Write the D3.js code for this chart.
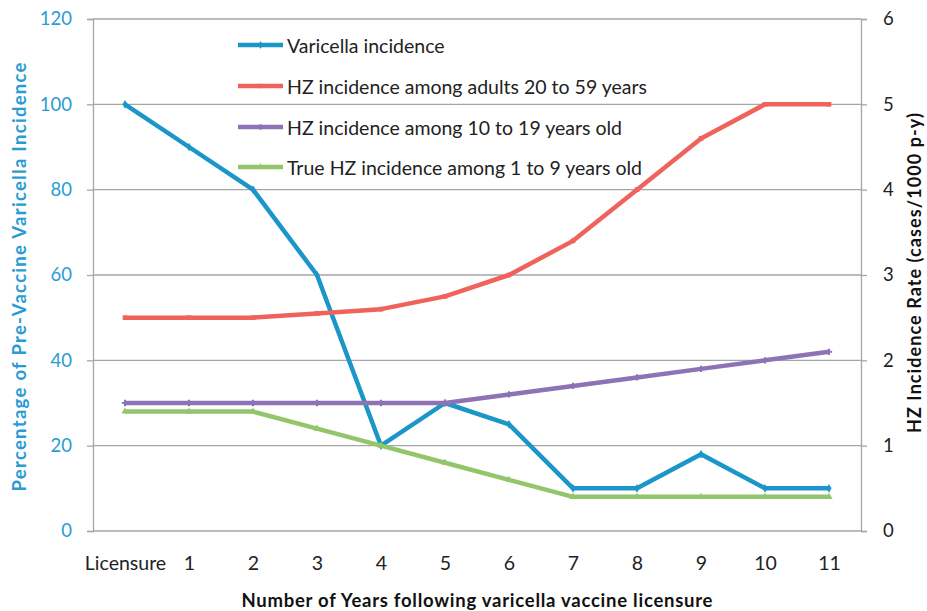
<!DOCTYPE html>
<html>
<head>
<meta charset="utf-8">
<script src="https://cdn.jsdelivr.net/npm/d3@7/dist/d3.min.js"></script>
<style>
  body { margin: 0; background: #fff; }
  svg { display: block; font-family: Lato, "Open Sans", sans-serif; }
</style>
</head>
<body>
<svg id="chart" width="927" height="611"></svg>
<script>
// ---- data ----
const categories = ["Licensure", "1", "2", "3", "4", "5", "6", "7", "8", "9", "10", "11"];
const varicellaPct = [100, 90, 80, 60, 20, 30, 25, 10, 10, 18, 10, 10];          // left axis
const hzAdults = [2.5, 2.5, 2.5, 2.55, 2.6, 2.75, 3.0, 3.4, 4.0, 4.6, 5.0, 5.0];    // right axis
const hzTeens = [1.5, 1.5, 1.5, 1.5, 1.5, 1.5, 1.6, 1.7, 1.8, 1.9, 2.0, 2.1];       // right axis
const hzChildren = [1.4, 1.4, 1.4, 1.2, 1.0, 0.8, 0.6, 0.4, 0.4, 0.4, 0.4, 0.4];    // right axis
const seriesNames = [
  "Varicella incidence",
  "HZ incidence among adults 20 to 59 years",
  "HZ incidence among 10 to 19 years old",
  "True HZ incidence among 1 to 9 years old"
];
const leftTicks = [0, 20, 40, 60, 80, 100, 120];
const rightTicks = [0, 1, 2, 3, 4, 5, 6];
const leftTitle = "Percentage of Pre-Vaccine Varicella Incidence";
const rightTitle = "HZ Incidence Rate (cases/1000 p-y)";
const xTitle = "Number of Years following varicella vaccine licensure";

// ---- layout ----
const svg = d3.select("#chart");
const plot = { left: 93, right: 861, top: 19, bottom: 531 };
const colors = ["#1b96c9", "#ef635c", "#8d73b5", "#93c56b"];
const symbols = [d3.symbolDiamond, d3.symbolSquare, d3.symbolCross, d3.symbolTriangle];
const gridColor = "#a6a6a6";

const x = d3.scalePoint().domain(categories).range([plot.left, plot.right]).padding(0.5);
const yL = d3.scaleLinear().domain([0, 120]).range([plot.bottom, plot.top]);
const yR = d3.scaleLinear().domain([0, 6]).range([plot.bottom, plot.top]);

// gridlines
svg.append("g").selectAll("line").data(leftTicks).join("line")
  .attr("x1", plot.left).attr("x2", plot.right)
  .attr("y1", d => yL(d)).attr("y2", d => yL(d))
  .attr("stroke", gridColor).attr("stroke-width", 1.3);

// left axis
const gL = svg.append("g").attr("transform", `translate(${plot.left},0)`)
  .call(d3.axisLeft(yL).tickValues(leftTicks).tickSize(6).tickPadding(15));
gL.select(".domain").attr("stroke", gridColor).attr("stroke-width", 1.3);
gL.selectAll(".tick line").attr("stroke", gridColor).attr("stroke-width", 1.3);
gL.selectAll(".tick text").attr("fill", "#2a9bd3").attr("font-size", 18.5)
  .attr("font-family", "Lato, sans-serif");

// right axis
const gR = svg.append("g").attr("transform", `translate(${plot.right},0)`)
  .call(d3.axisRight(yR).tickValues(rightTicks).tickFormat(d3.format("d")).tickSize(6).tickPadding(16));
gR.select(".domain").attr("stroke", gridColor).attr("stroke-width", 1.3);
gR.selectAll(".tick line").attr("stroke", gridColor).attr("stroke-width", 1.3);
gR.selectAll(".tick text").attr("fill", "#222").attr("font-size", 18.5)
  .attr("font-family", "Lato, sans-serif");

// bottom axis labels (no ticks)
const gX = svg.append("g").attr("transform", `translate(0,${plot.bottom})`)
  .call(d3.axisBottom(x).tickSize(0).tickPadding(25));
gX.select(".domain").remove();
gX.selectAll(".tick text").attr("fill", "#222").attr("font-size", 19.5)
  .attr("font-family", "Lato, sans-serif");

// titles
svg.append("text")
  .attr("transform", `translate(21,277) rotate(-90)`)
  .attr("text-anchor", "middle").attr("dominant-baseline", "middle")
  .attr("font-weight", "bold").attr("font-size", 18.5).attr("fill", "#2a9bd3")
  .attr("textLength", 429).attr("lengthAdjust", "spacing")
  .text(leftTitle);
svg.append("text")
  .attr("transform", `translate(916,273) rotate(-90)`)
  .attr("text-anchor", "middle").attr("dominant-baseline", "middle")
  .attr("font-weight", "bold").attr("font-size", 18).attr("fill", "#111")
  .attr("textLength", 320).attr("lengthAdjust", "spacing")
  .text(rightTitle);
svg.append("text")
  .attr("x", (plot.left + plot.right) / 2).attr("y", 607)
  .attr("text-anchor", "middle")
  .attr("font-weight", "bold").attr("font-size", 18.5).attr("fill", "#111")
  .attr("textLength", 471).attr("lengthAdjust", "spacing")
  .text(xTitle);

// series
const series = [
  { name: seriesNames[0], values: varicellaPct, y: yL },
  { name: seriesNames[1], values: hzAdults, y: yR },
  { name: seriesNames[2], values: hzTeens, y: yR },
  { name: seriesNames[3], values: hzChildren, y: yR }
];

series.forEach((s, i) => {
  const pts = s.values.map((v, j) => [x(categories[j]), s.y(v)]);
  svg.append("path")
    .attr("d", d3.line()(pts))
    .attr("fill", "none").attr("stroke", colors[i]).attr("stroke-width", 4.5)
    .attr("stroke-linejoin", "round");
  svg.append("g").selectAll("path").data(pts).join("path")
    .attr("transform", d => `translate(${d[0]},${d[1]})`)
    .attr("d", d3.symbol().type(symbols[i]).size(22))
    .attr("fill", colors[i]);
});

// legend
const legend = svg.append("g");
const legendRows = [45, 86, 127, 167];
seriesNames.forEach((name, i) => {
  const g = legend.append("g").attr("transform", `translate(0,${legendRows[i]})`);
  g.append("line").attr("x1", 238).attr("x2", 283).attr("y1", 0).attr("y2", 0)
    .attr("stroke", colors[i]).attr("stroke-width", 4.5);
  g.append("path").attr("transform", "translate(260.5,0)")
    .attr("d", d3.symbol().type(symbols[i]).size(18)).attr("fill", colors[i]);
  g.append("text").attr("x", 287).attr("y", 0).attr("dominant-baseline", "central")
    .attr("font-size", 19.5).attr("fill", "#222").text(name);
});
</script>
</body>
</html>
